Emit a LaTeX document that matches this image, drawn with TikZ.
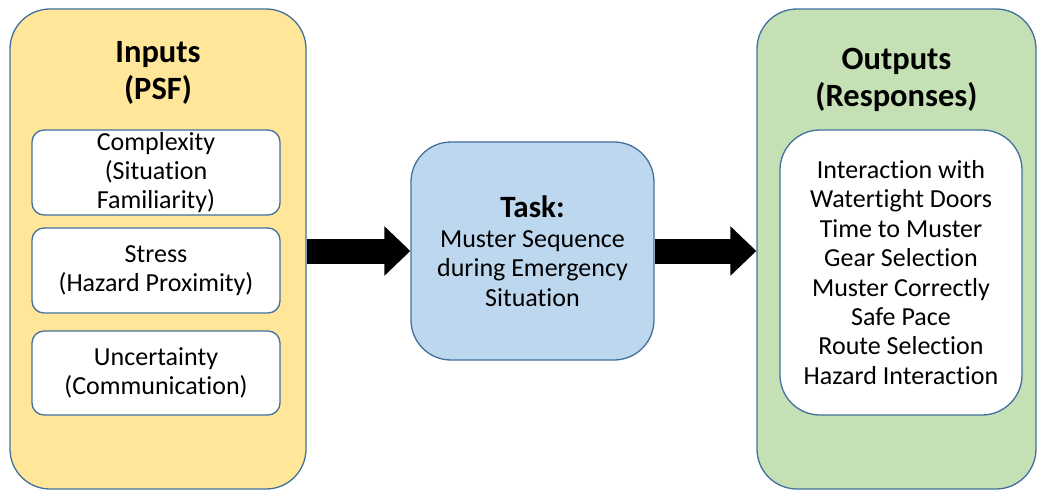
\documentclass[tikz,border=0pt]{standalone}
\usepackage{fontspec}
\setmainfont{Carlito}[Ligatures=NoCommon]
\usetikzlibrary{arrows.meta}
\definecolor{edge}{HTML}{41719C}
\definecolor{inyellow}{HTML}{FFE699}
\definecolor{taskblue}{HTML}{BDD7EE}
\definecolor{outgreen}{HTML}{C5E0B4}
\begin{document}
\begin{tikzpicture}[x=1pt,y=-1pt,
  bigbox/.style={draw=edge, line width=1.3pt, rounded corners=40pt, inner sep=0pt},
  smallbox/.style={draw=edge, line width=1.3pt, fill=white, rounded corners=12pt, inner sep=0pt,
    minimum width=248pt, align=center, font=\fontsize{26}{29.4}\selectfont},
  titletext/.style={align=center, inner sep=0pt, font=\fontsize{32.5}{37}\selectfont\bfseries},
  bigarrow/.style={line width=25pt, -{Triangle[length=26pt,width=48pt]}}
]
\useasboundingbox (0,0) rectangle (1039,492);
% Inputs
\node[bigbox, fill=inyellow, minimum width=296pt, minimum height=480pt] (inputs) at (158,249) {};
\node[titletext] (intitle) at (158,73) {Inputs\\(PSF)};
\node[smallbox, minimum height=85pt] (complex) at (156,172.5) {Complexity\\(Situation\\Familiarity)};
\node[smallbox, minimum height=85pt] (stress) at (156,270.5) {Stress\\(Hazard Proximity)};
\node[smallbox, minimum height=84pt] (uncert) at (156,373) {Uncertainty\\(Communication)};
% Task
\node[bigbox, fill=taskblue, minimum width=243pt, minimum height=218pt, align=center,
  font=\fontsize{26}{29.4}\selectfont] (task) at (532.5,251)
  {{\fontsize{31}{37}\selectfont\bfseries Task:}\\[1pt]Muster Sequence\\during Emergency\\Situation};
% Outputs
\node[bigbox, fill=outgreen, minimum width=279pt, minimum height=480pt] (outputs) at (896.5,249) {};
\node[titletext] (outtitle) at (896.5,80) {Outputs\\(Responses)};
\node[smallbox, rounded corners=40pt, minimum width=242pt, minimum height=285pt] (resp) at (901,272.5)
  {Interaction with\\Watertight Doors\\Time to Muster\\Gear Selection\\Muster Correctly\\Safe Pace\\Route Selection\\Hazard Interaction};
% Arrows
\draw[bigarrow] (inputs.east |- task.west) -- (task.west);
\draw[bigarrow] (task.east) -- (outputs.west |- task.east);
\end{tikzpicture}
\end{document}
